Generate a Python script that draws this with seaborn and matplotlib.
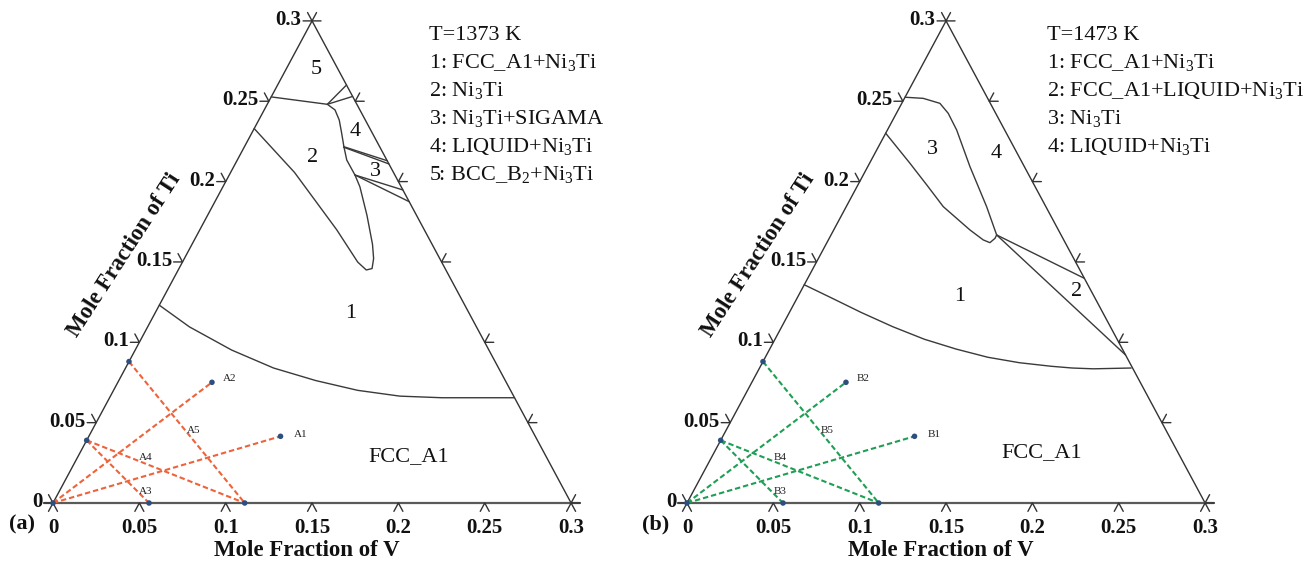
import numpy as np
import pandas as pd
import matplotlib
matplotlib.use("Agg")
import matplotlib.pyplot as plt
import seaborn as sns

# ------------------------------------------------------------------ data
tick_values = [0.0, 0.05, 0.10, 0.15, 0.20, 0.25, 0.30]
tick_labels = ["0", "0.05", "0.1", "0.15", "0.2", "0.25", "0.3"]

# Panel (a): T = 1373 K, phase boundaries given as (V, Ti) mole fractions
a_fcc_v = [0.0, 0.0242, 0.0558, 0.0857, 0.1140, 0.1414, 0.1676, 0.1925, 0.2168, 0.2345]
a_fcc_ti = [0.1231, 0.1096, 0.0952, 0.0840, 0.0762, 0.0701, 0.0665, 0.0655, 0.0655, 0.0655]

a_ni3ti_v = [0.0, 0.0370, 0.0793, 0.1015, 0.1089, 0.1118, 0.1096, 0.1045, 0.0923,
             0.0793, 0.0728, 0.0634, 0.0576, 0.0521, 0.0466, 0.0410, 0.0348, 0.0]
a_ni3ti_ti = [0.2330, 0.2057, 0.1700, 0.1499, 0.1450, 0.1459, 0.1521, 0.1610, 0.1790,
              0.1968, 0.2041, 0.2134, 0.2217, 0.2301, 0.2383, 0.2446, 0.2481, 0.2527]

a_tie_v = [[0.0348, 0.0399], [0.0348, 0.0470], [0.0576, 0.0870], [0.0576, 0.0890],
           [0.0728, 0.1052], [0.0728, 0.1125]]
a_tie_ti = [[0.2481, 0.2601], [0.2481, 0.2530], [0.2217, 0.2130], [0.2214, 0.2110],
            [0.2041, 0.1948], [0.2041, 0.1875]]

a_region_text = ["1", "2", "3", "4", "5", "FCC_A1"]
a_region_v = [0.1130, 0.0428, 0.0834, 0.0593, 0.0173, 0.1913]
a_region_ti = [0.1182, 0.2151, 0.2062, 0.2311, 0.2699, 0.0288]

a_legend = ["T=1373 K", "1: FCC_A1+Ni$_3$Ti", "2: Ni$_3$Ti", "3: Ni$_3$Ti+SIGAMA",
            "4: LIQUID+Ni$_3$Ti", "5: BCC_B$_2$+Ni$_3$Ti"]

# Panel (b): T = 1473 K
b_fcc_v = [0.0, 0.0199, 0.0415, 0.0643, 0.0865, 0.1079, 0.1288, 0.1488, 0.1682, 0.1810, 0.1935, 0.2152]
b_fcc_ti = [0.1358, 0.1276, 0.1186, 0.1097, 0.1019, 0.0958, 0.0907, 0.0873, 0.0851, 0.0840, 0.0835, 0.0840]

b_ni3ti_v = [0.0, 0.0234, 0.0399, 0.0562, 0.0789, 0.0897, 0.0944, 0.0960, 0.0959,
             0.0813, 0.0592, 0.0401, 0.0300, 0.0221, 0.0109, 0.0]
b_ni3ti_ti = [0.2301, 0.2114, 0.1979, 0.1844, 0.1699, 0.1637, 0.1620, 0.1647, 0.1668,
              0.1844, 0.2093, 0.2321, 0.2425, 0.2487, 0.2518, 0.2525]

b_tie_v = [[0.0959, 0.1602], [0.0959, 0.2079]]
b_tie_ti = [[0.1668, 0.1398], [0.1668, 0.0921]]

b_region_text = ["1", "2", "3", "4", "FCC_A1"]
b_region_v = [0.0939, 0.1599, 0.0322, 0.0703, 0.1896]
b_region_ti = [0.1284, 0.1315, 0.2201, 0.2172, 0.0315]

b_legend = ["T=1473 K", "1: FCC_A1+Ni$_3$Ti", "2: FCC_A1+LIQUID+Ni$_3$Ti",
            "3: Ni$_3$Ti", "4: LIQUID+Ni$_3$Ti"]

# diffusion couples (same compositions in both panels)
couple_ids = ["1", "2", "3", "4", "5"]
couple_start_v = [0.0, 0.0, 0.0, 0.0, 0.0]
couple_start_ti = [0.0, 0.0, 0.039, 0.039, 0.088]
couple_end_v = [0.111, 0.0545, 0.0556, 0.111, 0.111]
couple_end_ti = [0.0415, 0.0751, 0.0, 0.0, 0.0]
couple_label_v = [0.1181, 0.0597, 0.0504, 0.0396, 0.0586]
couple_label_ti = [0.0429, 0.0773, 0.0070, 0.0283, 0.0453]
couple_label_ha = ["left", "left", "center", "center", "center"]

# ------------------------------------------------------------------ style
sns.set_theme(style="white")
plt.rcParams["font.family"] = ["Liberation Serif", "DejaVu Serif"]
plt.rcParams["mathtext.fontset"] = "custom"
plt.rcParams["mathtext.rm"] = "Liberation Serif"
plt.rcParams["mathtext.it"] = "Liberation Serif:italic"
plt.rcParams["mathtext.bf"] = "Liberation Serif:bold"

EDGE = "#333333"
CURVE = "#3a3a3a"
MARK = "#2d4f7f"
TICK_LEN = 0.0052


def to_xy(v, ti):
    v = np.asarray(v, float)
    ti = np.asarray(ti, float)
    return v + ti / 2.0, ti


def lines_frame(curves):
    rows = []
    for name, (v, ti) in curves.items():
        x, y = to_xy(v, ti)
        for i, (xx, yy) in enumerate(zip(x, y)):
            rows.append((name, i, xx, yy))
    return pd.DataFrame(rows, columns=["curve", "order", "X", "Y"])


def draw_frame(ax):
    lo, hi = tick_values[0], tick_values[-1]
    # triangle edges
    edges = {
        "left": ([lo, lo], [lo, hi]),
        "right": ([hi, lo], [lo, hi]),
    }
    sns.lineplot(data=lines_frame(edges), x="X", y="Y", units="curve", estimator=None,
                 sort=False, color=EDGE, linewidth=1.0, ax=ax, legend=False)
    base = {"base": ([lo - TICK_LEN, hi + TICK_LEN], [lo, lo])}
    sns.lineplot(data=lines_frame(base), x="X", y="Y", units="curve", estimator=None,
                 sort=False, color="#5a5a5a", linewidth=1.6, ax=ax, legend=False)
    # tick arms
    L = TICK_LEN
    ticks = {}
    for t in tick_values:
        ticks[f"b{t}"] = ([t - 0, t, t + L], [-L, 0.0, -L])          # bottom (V axis)
        ticks[f"l{t}"] = ([-L, 0.0, -L], [t, t, t + L])              # left (Ti axis)
        ticks[f"r{t}"] = ([hi - t + L, hi - t, hi - t], [t, t, t + L])  # right edge
    sns.lineplot(data=lines_frame(ticks), x="X", y="Y", units="curve", estimator=None,
                 sort=False, color=EDGE, linewidth=1.0, ax=ax, legend=False)
    # tick labels
    for t, lab in zip(tick_values, tick_labels):
        x, y = to_xy(t, 0.0)
        ax.text(x, y - 0.0185, lab, ha="center", va="baseline", fontsize=15,
                fontweight="bold", color="#111111")
        x, y = to_xy(0.0, t)
        ax.text(x - L - 0.0008, y - 0.0026, lab, ha="right", va="baseline",
                fontsize=15, fontweight="bold", color="#111111")
    ax.text(0.147, -0.0295, "Mole Fraction of V", ha="center", va="center",
            fontsize=16.5, fontweight="bold", color="#111111")
    ax.text(0.041, 0.154, "Mole Fraction of Ti", ha="center", va="center",
            rotation=57, rotation_mode="anchor", fontsize=16.5, fontweight="bold",
            color="#111111")


def draw_panel(ax, fcc, ni3ti, ties_v, ties_ti, reg_text, reg_v, reg_ti, legend,
               legend_x, prefix, couple_color, panel_tag):
    draw_frame(ax)
    curves = {"fcc": fcc, "ni3ti": ni3ti}
    for i, (tv, tt) in enumerate(zip(ties_v, ties_ti)):
        curves[f"tie{i}"] = (tv, tt)
    sns.lineplot(data=lines_frame(curves), x="X", y="Y", units="curve", estimator=None,
                 sort=False, color=CURVE, linewidth=1.0, ax=ax, legend=False)

    for txt, v, ti in zip(reg_text, reg_v, reg_ti):
        x, y = to_xy(v, ti)
        ax.text(x, y, txt, ha="center", va="center", fontsize=16, color="#111111")

    for i, line in enumerate(legend):
        ax.text(legend_x, 0.2912 - i * 0.0173, line, ha="left", va="center",
                fontsize=16, color="#111111")

    # diffusion couples
    couples = {}
    for cid, sv, st, ev, et in zip(couple_ids, couple_start_v, couple_start_ti,
                                   couple_end_v, couple_end_ti):
        couples[cid] = ([sv, ev], [st, et])
    sns.lineplot(data=lines_frame(couples), x="X", y="Y", units="curve", estimator=None,
                 sort=False, color=couple_color, linewidth=1.5,
                 linestyle=(0, (2.6, 1.4)), ax=ax, legend=False)
    pv = couple_start_v + couple_end_v
    pt = couple_start_ti + couple_end_ti
    px, py = to_xy(pv, pt)
    pts = pd.DataFrame({"X": px, "Y": py}).drop_duplicates()
    sns.scatterplot(data=pts, x="X", y="Y", color=MARK, s=16, edgecolor="none",
                    ax=ax, zorder=5, legend=False)
    for cid, lv, lt, ha in zip(couple_ids, couple_label_v, couple_label_ti, couple_label_ha):
        x, y = to_xy(lv, lt)
        ax.text(x, y, prefix + cid, ha=ha, va="center", fontsize=8, color="#222222")

    ax.text(-0.018, -0.0131, panel_tag, ha="center", va="center", fontsize=16,
            fontweight="bold", color="#111111")


fig = plt.figure(figsize=(13.12, 5.63), dpi=100)
W, H = 1312.0, 563.0
SX, SY = 1727.0, 1607.0   # pixels per unit (X) and per unit (Ti)
ORIGIN_Y = 503.0

ax_a = fig.add_axes([0, 0, 656 / W, 1])
ax_b = fig.add_axes([656 / W, 0, 656 / W, 1])

draw_panel(ax_a, (a_fcc_v, a_fcc_ti), (a_ni3ti_v, a_ni3ti_ti), a_tie_v, a_tie_ti,
           a_region_text, a_region_v, a_region_ti, a_legend, 0.2177, "A", "#ee6339", "(a)")
draw_panel(ax_b, (b_fcc_v, b_fcc_ti), (b_ni3ti_v, b_ni3ti_ti), b_tie_v, b_tie_ti,
           b_region_text, b_region_v, b_region_ti, b_legend, 0.2085, "B", "#1f9f55", "(b)")

for ax, ox in ((ax_a, 53.0), (ax_b, 31.0)):
    ax.set_xlim(-ox / SX, (656 - ox) / SX)
    ax.set_ylim(-(H - ORIGIN_Y) / SY, ORIGIN_Y / SY)
    ax.axis("off")

fig.savefig("out.png", dpi=100)
